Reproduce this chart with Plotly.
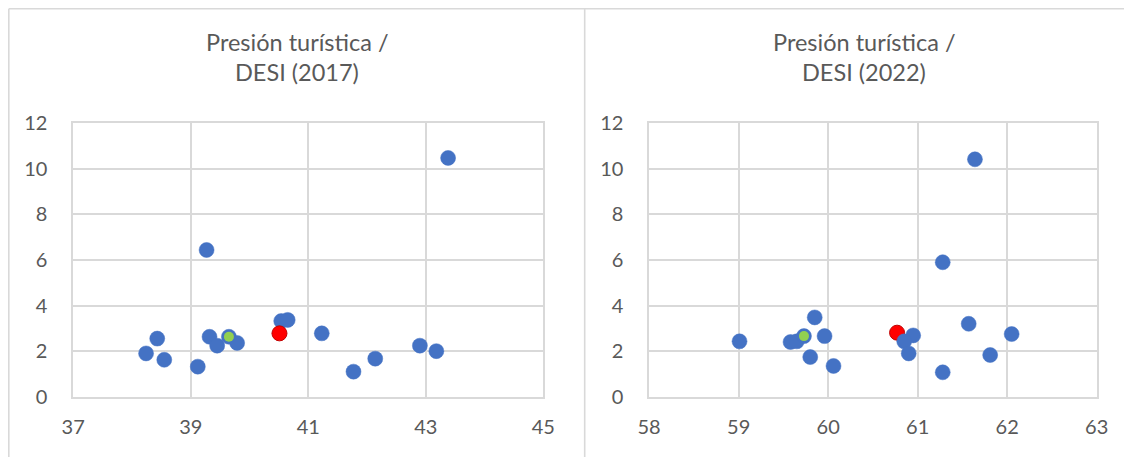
import plotly.graph_objects as go

# ---- data ----
x_2017_blue = [43.38, 39.27, 38.43, 38.24, 38.55, 39.12, 39.32, 39.45, 39.65, 39.79,
               40.54, 40.65, 41.23, 41.77, 42.14, 42.90, 43.18]
y_2017_blue = [10.48, 6.44, 2.55, 1.90, 1.62, 1.32, 2.63, 2.24, 2.63, 2.36,
               3.32, 3.37, 2.78, 1.10, 1.67, 2.24, 2.00]
x_2017_red = [40.51]
y_2017_red = [2.78]
x_2017_green = [39.65]
y_2017_green = [2.63]

x_2022_blue = [61.64, 61.28, 59.85, 59.01, 59.58, 59.65, 59.73, 59.96, 59.80, 60.06,
               60.95, 60.85, 60.90, 61.28, 61.57, 61.81, 62.05]
y_2022_blue = [10.42, 5.90, 3.48, 2.43, 2.40, 2.43, 2.66, 2.66, 1.74, 1.35,
               2.69, 2.43, 1.90, 1.07, 3.20, 1.83, 2.75]
x_2022_red = [60.77]
y_2022_red = [2.81]
x_2022_green = [59.73]
y_2022_green = [2.66]

title_line1 = "Presión turística /"
title_2017 = "DESI (2017)"
title_2022 = "DESI (2022)"

x_ticks_2017 = [37, 39, 41, 43, 45]
x_ticks_2022 = [58, 59, 60, 61, 62, 63]
y_ticks = [0, 2, 4, 6, 8, 10, 12]

# ---- styling ----
OFF = 8                      # page body margin
W, H = 1132 - OFF, 457 - OFF
BLUE = "#4472C4"
RED = "#FF0000"
GREEN = "#92D050"
GRID = "#D9D9D9"
TXT = "#595959"
FONT = "Lato"


def px_x(p):
    """screen pixel x -> paper fraction"""
    return (p - OFF) / W


def px_y(p):
    """screen pixel y -> paper fraction"""
    return 1 - (p - OFF) / H


fig = go.Figure()

def blue_trace(x, y, xa, ya):
    return go.Scatter(x=x, y=y, mode="markers", xaxis=xa, yaxis=ya,
                      marker=dict(size=15, color=BLUE, line=dict(width=0.5, color=BLUE)),
                      showlegend=False, hoverinfo="x+y")

def red_trace(x, y, xa, ya):
    return go.Scatter(x=x, y=y, mode="markers", xaxis=xa, yaxis=ya,
                      marker=dict(size=15, color=RED, line=dict(width=1, color="#C00000")),
                      showlegend=False, hoverinfo="x+y")

def green_trace(x, y, xa, ya):
    return go.Scatter(x=x, y=y, mode="markers", xaxis=xa, yaxis=ya,
                      marker=dict(size=10, color=GREEN, line=dict(width=0)),
                      showlegend=False, hoverinfo="x+y")

# left chart: red on top of blue
fig.add_trace(blue_trace(x_2017_blue, y_2017_blue, "x", "y"))
fig.add_trace(red_trace(x_2017_red, y_2017_red, "x", "y"))
fig.add_trace(green_trace(x_2017_green, y_2017_green, "x", "y"))
# right chart: red behind blue
fig.add_trace(red_trace(x_2022_red, y_2022_red, "x2", "y2"))
fig.add_trace(blue_trace(x_2022_blue, y_2022_blue, "x2", "y2"))
fig.add_trace(green_trace(x_2022_green, y_2022_green, "x2", "y2"))

ydom = [px_y(396.7), px_y(123.3)]
axis_common = dict(showgrid=True, gridcolor=GRID, gridwidth=1.5, showline=True,
                   linecolor=GRID, linewidth=1.5, mirror=True, zeroline=False,
                   automargin=False,
                   ticks="", tickfont=dict(family=FONT, size=20, color=TXT))

fig.update_layout(
    width=W, height=H,
    margin=dict(l=0, r=0, t=0, b=0, pad=0),
    paper_bgcolor="white", plot_bgcolor="white",
    font=dict(family=FONT, color=TXT),
    xaxis=dict(domain=[px_x(73.2), px_x(543.3)], range=[37, 45],
               tickvals=x_ticks_2017, ticklabelstandoff=12, anchor="y", **axis_common),
    yaxis=dict(domain=ydom, range=[0, 12], tickvals=y_ticks,
               ticklabelstandoff=20, anchor="x", **axis_common),
    xaxis2=dict(domain=[px_x(649.1), px_x(1096.7)], range=[58, 63],
                tickvals=x_ticks_2022, ticklabelstandoff=12, anchor="y2", **axis_common),
    yaxis2=dict(domain=ydom, range=[0, 12], tickvals=y_ticks,
                ticklabelstandoff=20, anchor="x2", **axis_common),
)

# titles
for cx, t2 in [(297, title_2017), (864, title_2022)]:
    fig.add_annotation(x=px_x(cx), y=px_y(42), xref="paper", yref="paper",
                       text=title_line1, showarrow=False, xanchor="center", yanchor="middle",
                       font=dict(family=FONT, size=23.5, color=TXT))
    fig.add_annotation(x=px_x(cx), y=px_y(72), xref="paper", yref="paper",
                       text=t2, showarrow=False, xanchor="center", yanchor="middle",
                       font=dict(family=FONT, size=23.5, color=TXT))

# chart borders (top edge kept just inside the figure)
border = dict(color=GRID, width=1.6)
top_y = px_y(OFF + 0.8)
fig.add_shape(type="line", xref="paper", yref="paper",
              x0=px_x(OFF + 0.8), x1=1, y0=top_y, y1=top_y, line=border)
fig.add_shape(type="line", xref="paper", yref="paper",
              x0=px_x(OFF + 0.8), x1=px_x(OFF + 0.8), y0=top_y, y1=0, line=border)
fig.add_shape(type="line", xref="paper", yref="paper",
              x0=px_x(584.7), x1=px_x(584.7), y0=top_y, y1=0, line=border)

fig.write_html("out.html")
